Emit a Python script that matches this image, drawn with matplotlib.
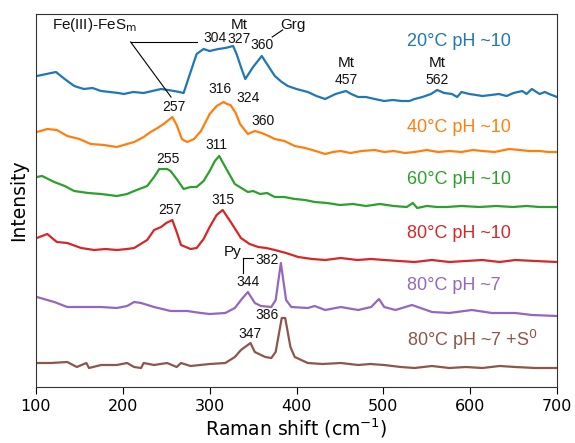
import matplotlib
matplotlib.use("Agg")
import matplotlib.pyplot as plt

# ---- data (Raman shift cm-1, stacked intensity a.u.) ----
x20 = [101,112,123,133,144,155,165,175,185,195,201,212,224,234,244,252,259,265,270,278,285,293,300,310,318,327,331,336,341,350,360,366,375,383,390,400,413,423,433,445,457,463,471,480,490,501,511,521,530,536,545,555,562,570,579,585,590,599,607,614,624,633,642,650,660,665,671,680,686,691,700]
y20 = [311,313,315,308,301,298,299,296,295,294,293,295,294,296,298,297,296,295,294,315,333,338,336,338,339,341,333,320,308,320,331,323,311,305,301,298,295,291,288,293,296,293,290,290,288,286,287,286,286,288,290,293,297,294,293,290,295,293,292,291,292,293,291,294,296,293,298,293,295,293,290]

x40 = [101,113,124,136,150,163,178,193,205,213,224,232,240,247,257,262,268,274,282,290,300,308,316,320,324,330,335,344,352,360,368,375,386,398,410,422,433,442,451,462,475,490,501,512,525,536,550,563,576,590,603,614,628,645,657,668,680,690,700]
y40 = [255,258,257,251,248,243,242,240,243,245,250,255,259,263,270,262,248,245,248,256,273,281,285,283,282,274,263,253,256,254,251,248,246,241,239,236,233,235,236,234,236,237,235,236,234,235,237,235,236,235,237,236,235,238,237,236,236,235,235]

x60 = [101,107,121,133,144,160,175,193,205,213,228,236,242,251,255,262,270,278,285,293,300,306,311,318,329,344,350,358,366,375,386,398,410,421,435,450,465,480,496,512,527,534,539,550,562,573,590,611,630,649,665,680,700]
y60 = [210,211,205,201,196,194,193,191,193,196,201,210,218,218,216,208,198,200,200,206,216,226,231,220,203,195,196,193,194,190,190,188,187,185,184,182,183,181,183,181,180,184,179,181,180,180,181,180,181,180,181,180,180]

x80 = [101,113,124,136,152,167,180,193,205,213,228,236,244,250,257,262,267,278,285,293,300,308,315,325,336,346,356,365,375,388,402,418,433,451,470,486,501,518,536,556,576,595,614,634,652,675,700]
y80 = [149,153,145,144,139,137,138,137,138,139,147,157,160,164,167,155,142,138,139,148,160,172,177,164,149,143,140,139,137,134,130,128,127,129,127,128,127,126,125,127,125,126,127,125,127,126,125]

x7 = [101,121,136,155,175,193,205,213,221,236,255,274,290,300,318,329,337,344,352,359,371,376,382,388,394,413,421,433,451,471,486,495,501,514,533,556,576,602,625,652,671,700]
y7 = [90,85,80,80,80,79,81,85,84,80,76,76,74,73,74,79,88,95,84,81,80,87,124,87,80,79,81,77,80,77,80,88,80,77,82,75,74,77,74,74,72,71]

xS = [101,117,136,147,158,161,175,193,205,213,221,224,236,251,262,267,278,300,318,329,336,347,352,364,371,376,383,387,393,398,413,430,451,471,485,501,520,536,556,576,595,614,634,652,675,700]
yS = [24,24,25,20,24,19,22,22,24,20,19,24,22,24,20,24,21,23,24,30,37,44,35,30,29,35,69,69,40,30,24,23,24,22,23,22,20,19,21,19,20,19,21,20,19,19]

series = [
    (x20, y20, "#1f77b4", "20°C pH ~10", 345),
    (x40, y40, "#ff7f0e", "40°C pH ~10", 260),
    (x60, y60, "#2ca02c", "60°C pH ~10", 207),
    (x80, y80, "#d62728", "80°C pH ~10", 154),
    (x7, y7, "#9467bd", "80°C pH ~7", 102),
    (xS, yS, "#8c564b", "80°C pH ~7 +S$^{0}$", 47),
]

# peak annotations: (x, y, text, fontsize)
peak_labels = [
    (306, 349, "304", 10), (334, 362, "Mt", 11), (334, 348, "327", 10),
    (360, 342, "360", 10), (396, 362, "Grg", 11),
    (457, 324, "Mt", 11), (457, 307, "457", 10),
    (562, 324, "Mt", 11), (562, 307, "562", 10),
    (259, 280, "257", 10), (312, 298, "316", 10), (344, 289, "324", 10), (361, 266, "360", 10),
    (252, 228, "255", 10), (308, 242, "311", 10),
    (254, 177, "257", 10), (315, 187, "315", 10),
    (326, 135, "Py", 11), (366, 127, "382", 10), (344, 105, "344", 10),
    (366, 72, "386", 10), (346, 53, "347", 10),
]

plt.rcParams['font.family'] = ['DejaVu Sans']
fig = plt.figure(figsize=(5.75, 4.43), dpi=100)
ax = fig.add_axes([36/575, 56/443, (557-36)/575, (387-14)/443])

for xs, ys, c, lab, ly in series:
    ax.plot(xs, ys, color=c, lw=1.6)
    ax.text(527, ly, lab, color=c, fontsize=13, family='Liberation Sans',
            ha='left', va='center')

for x, y, t, fs in peak_labels:
    ax.text(x, y, t, fontsize=fs, family='Liberation Sans', ha='center', va='center', color='#111111')

ax.text(167, 362, "Fe(III)-FeS$_\\mathrm{m}$", fontsize=11, family='Liberation Sans',
        ha='center', va='center', color='#111111')
# leader lines
lk = dict(color='black', lw=0.8)
ax.plot([209, 285], [345, 345], **lk)
ax.plot([209, 255.5], [345, 290], **lk)
ax.plot([384, 372], [357, 350], **lk)
ax.plot([338.7, 350.3], [128.7, 128.7], **lk)
ax.plot([338.7, 338.7], [128.7, 113.7], **lk)

ax.set_xlim(100, 700)
ax.set_ylim(0, 373)
ax.set_yticks([])
ax.set_xticks([100, 200, 300, 400, 500, 600, 700])
ax.tick_params(axis='x', labelsize=11.5, length=5)
ax.set_xlabel("Raman shift (cm$^{-1}$)", fontsize=13.5, labelpad=2)
ax.set_ylabel("Intensity", fontsize=13.5, labelpad=6)
for s in ax.spines.values():
    s.set_color('#333333')

fig.savefig("out.png", dpi=100)
